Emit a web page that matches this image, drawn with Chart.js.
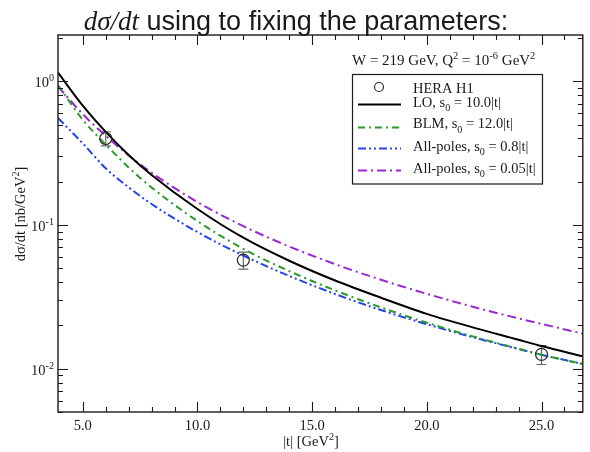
<!DOCTYPE html>
<html>
<head>
<meta charset="utf-8">
<script src="https://cdn.jsdelivr.net/npm/chart.js@4.4.0/dist/chart.umd.min.js"></script>
<style>
  html, body { margin: 0; padding: 0; background: #fff; overflow: hidden; }
</style>
</head>
<body>
<canvas id="c" width="590" height="452"></canvas>
<script>
// |t| nodes where the model curves are sampled
const tGrid = [3.92, 5, 6, 7, 8, 10, 12, 14, 16, 18, 20, 22, 24, 25, 26.8];

// model curves, dσ/dt in nb/GeV^2
const loCurve      = [1.15, 0.677, 0.445, 0.307, 0.223, 0.1293, 0.0816, 0.0564, 0.0411, 0.0312, 0.0241, 0.0194, 0.0159, 0.01438, 0.0122];
const blmCurve     = [0.94, 0.54, 0.363, 0.2515, 0.1825, 0.1065, 0.0682, 0.0478, 0.0351, 0.0267, 0.0209, 0.0168, 0.01376, 0.0125, 0.0108];
const poles08Curve = [0.555, 0.37, 0.248, 0.183, 0.140, 0.0893, 0.0613, 0.0442, 0.0331, 0.0256, 0.0204, 0.01656, 0.01372, 0.0125, 0.0108];
const poles005Curve= [0.92, 0.591, 0.418, 0.305, 0.231, 0.1445, 0.0982, 0.0709, 0.0534, 0.0416, 0.0332, 0.0270, 0.0224, 0.0205, 0.01755];

// HERA H1 measurements
const h1T     = [6, 12, 25];
const h1Sigma = [0.40, 0.057, 0.0126];
const h1Err   = [0.045, 0.0077, 0.0019];

// axes
const xTickValues = [5, 6, 7, 8, 9, 10, 11, 12, 13, 14, 15, 16, 17, 18, 19, 20, 21, 22, 23, 24, 25, 26];
const xMajor      = [5, 10, 15, 20, 25];
const xTickLabels = ['5.0', '10.0', '15.0', '20.0', '25.0'];
const yDecades    = [0.01, 0.1, 1];
const yExponents  = ['-2', '-1', '0'];
const yMinor      = [0.005, 0.006, 0.007, 0.008, 0.009,
                     0.02, 0.03, 0.04, 0.05, 0.06, 0.07, 0.08, 0.09,
                     0.2, 0.3, 0.4, 0.5, 0.6, 0.7, 0.8, 0.9, 2];

const SERIF = '"Liberation Serif", "Times New Roman", serif';
const SANS  = '"Liberation Sans", Arial, sans-serif';
const INK   = '#1a1a1a';

const pts = (xs, ys) => xs.map((x, i) => ({ x, y: ys[i] }));

// text with sub/superscripts: parts = [[text, ''|'sub'|'sup'], ...]
function richText(ctx, parts, x, y, size, align) {
  const fontFor = k => (k ? size * 0.7 : size) + 'px ' + SERIF;
  let w = 0;
  for (const [s, k] of parts) { ctx.font = fontFor(k); w += ctx.measureText(s).width; }
  let cx = align === 'center' ? x - w / 2 : align === 'right' ? x - w : x;
  ctx.textAlign = 'left';
  ctx.textBaseline = 'alphabetic';
  for (const [s, k] of parts) {
    ctx.font = fontFor(k);
    const dy = k === 'sub' ? size * 0.3 : k === 'sup' ? -size * 0.42 : 0;
    ctx.fillText(s, cx, y + dy);
    cx += ctx.measureText(s).width;
  }
}

// error bars under the H1 circles
const errorBars = {
  id: 'errorBars',
  beforeDatasetsDraw(chart) {
    const { ctx, scales: { x, y } } = chart;
    ctx.save();
    ctx.strokeStyle = '#6a6a6a';
    ctx.lineWidth = 1.2;
    h1T.forEach((t, i) => {
      const px = x.getPixelForValue(t);
      const top = y.getPixelForValue(h1Sigma[i] + h1Err[i]);
      const bot = y.getPixelForValue(h1Sigma[i] - h1Err[i]);
      ctx.beginPath();
      ctx.moveTo(px, top); ctx.lineTo(px, bot);
      ctx.moveTo(px - 5, top); ctx.lineTo(px + 5, top);
      ctx.moveTo(px - 5, bot); ctx.lineTo(px + 5, bot);
      ctx.stroke();
    });
    ctx.restore();
  }
};

// frame, inward ticks, log labels, title, note and legend
const decor = {
  id: 'decor',
  afterDraw(chart) {
    const { ctx, chartArea: a, scales: { x, y } } = chart;
    ctx.save();
    ctx.strokeStyle = INK;
    ctx.lineWidth = 1.4;
    ctx.strokeRect(a.left, a.top, a.right - a.left, a.bottom - a.top);

    ctx.lineWidth = 1.1;
    ctx.beginPath();
    xTickValues.forEach(v => {
      const px = Math.round(x.getPixelForValue(v)) + 0.5;
      const len = xMajor.includes(v) ? 10 : 5;
      ctx.moveTo(px, a.bottom); ctx.lineTo(px, a.bottom - len);
      ctx.moveTo(px, a.top); ctx.lineTo(px, a.top + len);
    });
    yDecades.concat(yMinor).forEach(v => {
      const py = Math.round(y.getPixelForValue(v)) + 0.5;
      const len = yDecades.includes(v) ? 10 : 5;
      ctx.moveTo(a.left, py); ctx.lineTo(a.left + len, py);
      ctx.moveTo(a.right, py); ctx.lineTo(a.right - len, py);
    });
    ctx.stroke();

    ctx.fillStyle = INK;
    yDecades.forEach((v, i) => {
      const py = y.getPixelForValue(v);
      richText(ctx, [['10', ''], [yExponents[i], 'sup']], 54, py + 6, 14.5, 'right');
    });

    // axis titles
    richText(ctx, [['|t| [GeV', ''], ['2', 'sup'], [']', '']], 311, 446, 14.5, 'center');
    ctx.save();
    ctx.translate(25, 214);
    ctx.rotate(-Math.PI / 2);
    richText(ctx, [['d\u03c3/dt [nb/GeV', ''], ['2', 'sup'], [']', '']], 0, 0, 14.5, 'center');
    ctx.restore();

    // main title: math part in italic serif, rest in sans
    const mathPart = 'd\u03c3/dt';
    const textPart = ' using to fixing the parameters:';
    ctx.font = 'italic 27px ' + SERIF;
    const w1 = ctx.measureText(mathPart).width;
    ctx.font = '27px ' + SANS;
    const w2 = ctx.measureText(textPart).width;
    const tx = 296 - (w1 + w2) / 2;
    ctx.textAlign = 'left';
    ctx.textBaseline = 'alphabetic';
    ctx.font = 'italic 27px ' + SERIF;
    ctx.fillText(mathPart, tx, 30);
    ctx.font = '27px ' + SANS;
    ctx.fillText(textPart, tx + w1, 30);

    // kinematics note
    richText(ctx, [['W = 219 GeV, Q', ''], ['2', 'sup'], [' = 10', ''], ['-6', 'sup'], [' GeV', ''], ['2', 'sup']],
             352, 65, 15, 'left');

    // legend box
    ctx.fillStyle = '#fff';
    ctx.fillRect(352.5, 74.5, 190, 109.5);
    ctx.strokeStyle = INK;
    ctx.lineWidth = 1.2;
    ctx.strokeRect(352.5, 74.5, 190, 109.5);

    const ds = chart.data.datasets;
    ctx.beginPath();
    ctx.arc(379, 87, 4.5, 0, Math.PI * 2);
    ctx.strokeStyle = ds[0].borderColor;
    ctx.lineWidth = 1.2;
    ctx.stroke();
    ctx.fillStyle = INK;
    richText(ctx, [[ds[0].label, '']], 413, 92.5, 14.5, 'left');

    const rows = [
      { i: 1, lineY: 104.5, textY: 106.7, parts: [['LO, s', ''], ['0', 'sub'], [' = 10.0|t|', '']] },
      { i: 2, lineY: 127.5, textY: 128.3, parts: [['BLM, s', ''], ['0', 'sub'], [' = 12.0|t|', '']] },
      { i: 3, lineY: 148.5, textY: 151,   parts: [['All-poles, s', ''], ['0', 'sub'], [' = 0.8|t|', '']] },
      { i: 4, lineY: 170.5, textY: 172.7, parts: [['All-poles, s', ''], ['0', 'sub'], [' = 0.05|t|', '']] }
    ];
    rows.forEach(r => {
      const d = ds[r.i];
      ctx.beginPath();
      ctx.setLineDash(d.borderDash || []);
      ctx.strokeStyle = d.borderColor;
      ctx.lineWidth = d.borderWidth;
      ctx.moveTo(358, r.lineY); ctx.lineTo(401, r.lineY);
      ctx.stroke();
      ctx.setLineDash([]);
      ctx.fillStyle = INK;
      richText(ctx, r.parts, 413, r.textY, 14.5, 'left');
    });
    ctx.restore();
  }
};

const curve = (label, ys, color, dash) => ({
  label,
  data: pts(tGrid, ys),
  borderColor: color,
  borderWidth: 2,
  borderDash: dash,
  pointRadius: 0,
  fill: false,
  cubicInterpolationMode: 'monotone'
});

new Chart(document.getElementById('c'), {
  type: 'line',
  data: {
    datasets: [
      {
        label: 'HERA H1',
        data: pts(h1T, h1Sigma),
        showLine: false,
        pointRadius: 6,
        pointBorderWidth: 1.2,
        borderColor: '#2a2a2a',
        pointBorderColor: '#2a2a2a',
        pointBackgroundColor: 'rgba(0,0,0,0)'
      },
      curve('LO', loCurve, '#000000', []),
      curve('BLM', blmCurve, '#2a9a2a', [7, 4, 2, 4]),
      curve('All-poles 0.8', poles08Curve, '#2244f0', [8, 3, 2, 3, 2, 3]),
      curve('All-poles 0.05', poles005Curve, '#9a28d4', [9, 4, 2, 4])
    ]
  },
  options: {
    responsive: false,
    devicePixelRatio: 1,
    animation: false,
    layout: { padding: { top: 35, right: 2, left: 0, bottom: 0 } },
    plugins: {
      legend: { display: false },
      title: { display: false },
      tooltip: { enabled: false }
    },
    scales: {
      x: {
        type: 'linear',
        min: 3.92,
        max: 26.8,
        afterBuildTicks: s => { s.ticks = xTickValues.map(v => ({ value: v })); },
        afterFit: s => { s.height = 40; s.paddingLeft = 0; s.paddingRight = 0; },
        grid: { display: false, drawTicks: false },
        border: { display: false },
        ticks: {
          autoSkip: false,
          maxRotation: 0,
          padding: 5,
          color: INK,
          font: { family: SERIF, size: 14.5 },
          callback: v => {
            const k = xMajor.indexOf(v);
            return k >= 0 ? xTickLabels[k] : '';
          }
        }
      },
      y: {
        type: 'logarithmic',
        min: 0.005,
        max: 2.1,
        afterBuildTicks: s => { s.ticks = yDecades.concat(yMinor).map(v => ({ value: v })); },
        afterFit: s => { s.width = 58; s.paddingTop = 0; s.paddingBottom = 0; },
        grid: { display: false, drawTicks: false },
        border: { display: false },
        ticks: { display: false }
      }
    }
  },
  plugins: [errorBars, decor]
});
</script>
</body>
</html>
